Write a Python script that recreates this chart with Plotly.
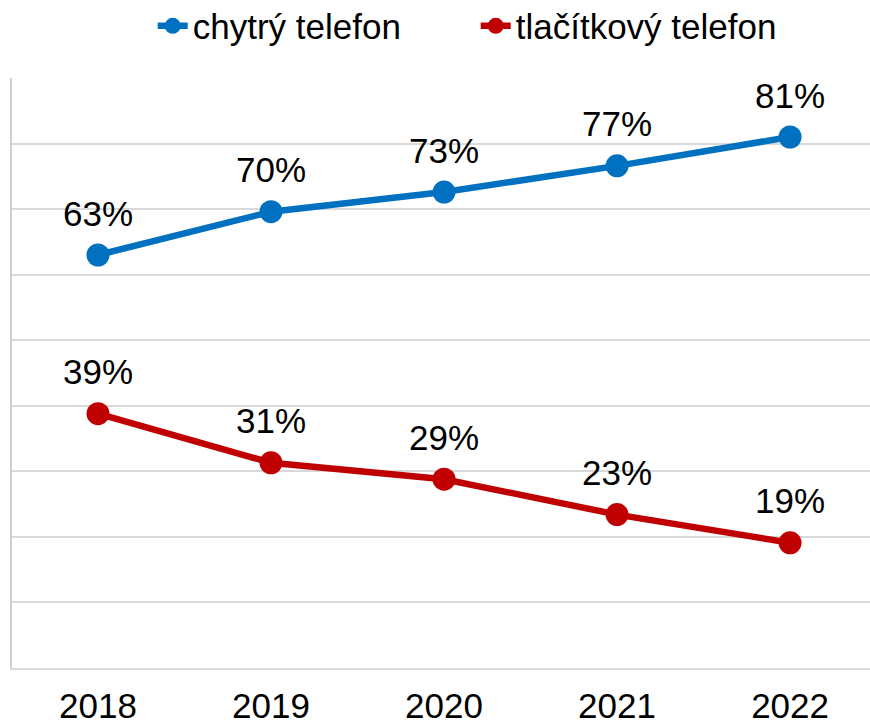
import plotly.graph_objects as go

years = ["2018", "2019", "2020", "2021", "2022"]
smart_values = [63.0, 69.6, 72.6, 76.6, 81.0]
smart_labels = ["63%", "70%", "73%", "77%", "81%"]
button_values = [38.8, 31.3, 28.8, 23.4, 19.1]
button_labels = ["39%", "31%", "29%", "23%", "19%"]

FONT = "Liberation Sans, Arial, sans-serif"
FS = 35

fig = go.Figure()
series = [
    ("chytrý telefon", smart_values, smart_labels, "#0070C0"),
    ("tlačítkový telefon", button_values, button_labels, "#C00000"),
]
for name, vals, labels, color in series:
    fig.add_trace(go.Scatter(
        x=years, y=vals, mode="lines+markers", name=name,
        line=dict(color=color, width=6.5),
        marker=dict(color=color, size=23),
        cliponaxis=False,
    ))
    for i, (yv, lab) in enumerate(zip(vals, labels)):
        fig.add_annotation(x=i, y=yv, text=lab, showarrow=False,
                           yshift=42, font=dict(size=FS, color="#000000", family=FONT))

fig.update_layout(
    width=870, height=725,
    margin=dict(l=12, r=0, t=78, b=57, autoexpand=False),
    paper_bgcolor="white", plot_bgcolor="white",
    font=dict(family=FONT, size=FS, color="#000000"),
    showlegend=True,
    legend=dict(orientation="h", x=0.164, xanchor="left", y=1.138, yanchor="top",
                font=dict(size=FS, family=FONT),
                itemsizing="trace", traceorder="normal",
                entrywidth=278, entrywidthmode="pixels"),
    xaxis=dict(type="category", range=[-0.497, 4.462], showgrid=False,
               showline=True, linecolor="#D9D9D9", linewidth=2,
               ticks="", ticklabelstandoff=6,
               tickfont=dict(size=FS, family=FONT), zeroline=False),
    yaxis=dict(range=[0, 90], dtick=10, showticklabels=False, showgrid=True,
               gridcolor="#D9D9D9", gridwidth=1.5, zeroline=False,
               showline=True, linecolor="#D0D0D0", linewidth=2, mirror=False),
)

fig.write_html(
    "out.html",
    config={"displayModeBar": False},
    post_script="document.body.style.margin='0';document.body.style.overflow='hidden';",
)
